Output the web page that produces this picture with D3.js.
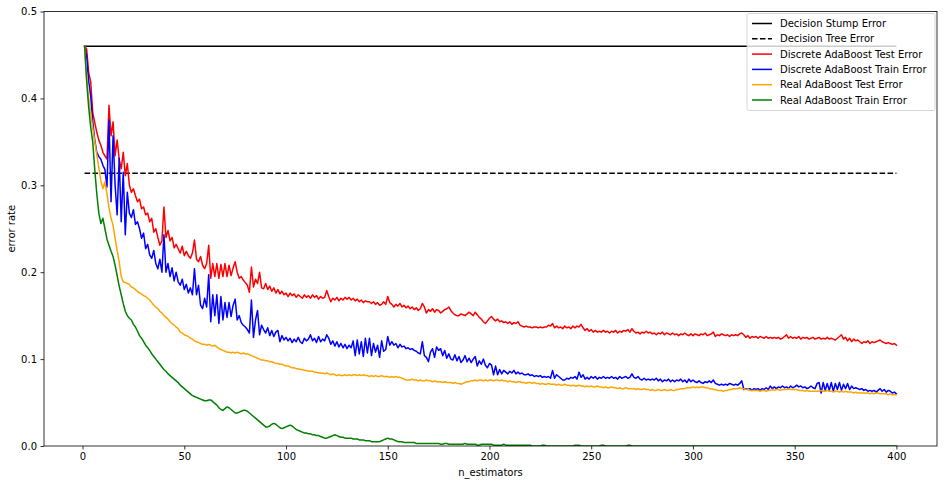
<!DOCTYPE html>
<html><head><meta charset="utf-8">
<script src="https://cdn.jsdelivr.net/npm/d3@7"></script>
<style>body{margin:0;background:#fff;}svg{display:block;font-family:"DejaVu Sans",sans-serif;}</style>
</head><body><svg id="c" width="947" height="485"></svg>
<script>
const xTicks = [0, 50, 100, 150, 200, 250, 300, 350, 400];
const yTicks = [0.0, 0.1, 0.2, 0.3, 0.4, 0.5];
const seriesNames = ["Decision Stump Error", "Decision Tree Error", "Discrete AdaBoost Test Error", "Discrete AdaBoost Train Error", "Real AdaBoost Test Error", "Real AdaBoost Train Error"];
const stumpError = 0.46;
const treeError = 0.314;
const nEstimators = 400;

const discreteTest = [
.460,.457,.430,.419,.384,.372,.361,.352,.346,.338,
.334,.330,.392,.357,.373,.334,.352,.330,.319,.338,
.311,.325,.300,.292,.296,.288,.281,.284,.273,.275,
.266,.268,.258,.262,.246,.250,.240,.231,.236,.275,
.240,.248,.236,.240,.228,.232,.227,.222,.230,.219,
.224,.219,.216,.222,.237,.215,.212,.218,.208,.204,
.210,.231,.193,.210,.195,.210,.193,.209,.195,.210,
.195,.208,.196,.205,.212,.200,.193,.195,.191,.188,
.185,.177,.206,.183,.192,.187,.200,.182,.181,.187,
.180,.184,.178,.182,.176,.180,.175,.178,.174,.176,
.172,.176,.173,.175,.171,.174,.172,.170,.174,.171,
.173,.170,.174,.171,.173,.169,.172,.170,.171,.179,
.172,.166,.170,.168,.171,.167,.170,.168,.171,.169,
.171,.168,.170,.167,.169,.166,.168,.165,.167,.166,
.166,.164,.166,.163,.165,.162,.163,.166,.163,.172,
.165,.163,.160,.163,.161,.164,.160,.162,.159,.161,
.158,.160,.157,.159,.156,.158,.164,.160,.153,.157,
.155,.158,.154,.157,.156,.153,.155,.157,.158,.160,
.156,.153,.151,.150,.150,.152,.151,.150,.152,.154,
.152,.150,.154,.151,.148,.146,.143,.141,.144,.147,
.149,.146,.144,.146,.143,.144,.142,.143,.141,.143,
.140,.142,.141,.143,.139,.138,.137,.138,.137,.137,
.136,.137,.137,.136,.137,.136,.137,.137,.139,.138,
.141,.136,.138,.136,.137,.135,.138,.136,.137,.135,
.138,.136,.138,.137,.140,.136,.133,.135,.132,.134,
.131,.133,.131,.132,.131,.133,.131,.132,.130,.132,
.131,.133,.130,.132,.131,.133,.132,.134,.131,.135,
.132,.130,.131,.129,.131,.130,.132,.130,.131,.129,
.130,.128,.130,.129,.131,.128,.130,.129,.128,.130,
.128,.129,.127,.129,.128,.130,.128,.127,.129,.127,
.129,.128,.127,.129,.128,.130,.127,.128,.129,.131,
.126,.128,.127,.129,.128,.127,.128,.126,.128,.127,
.128,.127,.129,.130,.128,.125,.127,.124,.126,.125,
.126,.124,.126,.125,.124,.126,.124,.125,.124,.125,
.124,.125,.123,.124,.126,.128,.124,.126,.124,.125,
.124,.126,.123,.125,.124,.125,.123,.124,.125,.123,
.124,.125,.123,.124,.123,.125,.123,.124,.123,.122,
.124,.126,.128,.123,.125,.121,.124,.120,.123,.121,
.122,.120,.118,.120,.119,.121,.118,.120,.119,.120,
.121,.122,.120,.119,.118,.119,.118,.117,.118,.116];

const discreteTrain = [
.460,.449,.420,.403,.373,.352,.338,.333,.330,.323,
.318,.298,.375,.281,.357,.300,.266,.331,.258,.315,
.243,.292,.268,.263,.272,.255,.258,.250,.239,.245,
.227,.232,.220,.216,.225,.210,.204,.215,.200,.243,
.200,.210,.195,.205,.190,.200,.189,.185,.192,.180,
.186,.176,.182,.174,.204,.174,.185,.162,.158,.170,
.160,.197,.143,.174,.150,.174,.141,.172,.145,.165,
.148,.165,.149,.162,.169,.145,.150,.142,.139,.137,
.134,.130,.168,.125,.145,.156,.128,.139,.134,.130,
.136,.127,.133,.126,.131,.133,.120,.127,.122,.125,
.121,.124,.119,.123,.120,.125,.120,.118,.124,.121,
.123,.128,.121,.124,.119,.126,.120,.123,.121,.128,
.124,.117,.121,.115,.120,.114,.118,.113,.117,.112,
.116,.113,.121,.104,.122,.106,.120,.103,.124,.107,
.124,.104,.118,.108,.116,.102,.121,.109,.111,.126,
.116,.120,.116,.118,.113,.117,.114,.115,.112,.113,
.111,.112,.110,.109,.107,.106,.120,.104,.102,.097,
.108,.112,.102,.114,.110,.112,.104,.110,.101,.106,
.100,.099,.105,.098,.103,.096,.099,.104,.097,.101,
.096,.100,.103,.092,.098,.094,.100,.093,.090,.095,
.093,.082,.092,.082,.088,.083,.087,.085,.083,.086,
.084,.087,.083,.085,.083,.084,.082,.082,.083,.081,
.082,.080,.081,.080,.081,.079,.080,.079,.080,.078,
.087,.078,.082,.080,.078,.076,.076,.078,.077,.079,
.078,.080,.077,.085,.079,.082,.077,.079,.077,.080,
.078,.080,.077,.079,.078,.080,.078,.079,.078,.080,
.078,.079,.077,.080,.078,.079,.080,.078,.079,.083,
.079,.078,.080,.077,.076,.078,.076,.077,.076,.077,
.076,.078,.075,.077,.074,.076,.075,.077,.074,.076,
.074,.076,.075,.077,.074,.076,.073,.077,.074,.076,
.074,.073,.075,.073,.072,.074,.073,.075,.073,.076,
.072,.071,.070,.071,.070,.071,.070,.072,.071,.070,
.071,.070,.072,.075,.065,.066,.065,.066,.064,.066,
.065,.066,.064,.066,.065,.067,.065,.069,.066,.068,
.066,.068,.067,.069,.067,.068,.066,.069,.067,.068,
.070,.068,.069,.067,.068,.066,.067,.069,.067,.066,
.072,.073,.061,.073,.064,.072,.064,.073,.063,.072,
.065,.073,.064,.071,.066,.072,.065,.069,.066,.067,
.066,.065,.066,.064,.065,.063,.064,.063,.064,.062,
.064,.066,.063,.065,.062,.064,.063,.061,.062,.060];

const realTest = [
.460,.425,.400,.383,.366,.350,.335,.320,.305,.296,
.304,.290,.274,.262,.254,.239,.225,.212,.195,.189,
.188,.187,.186,.183,.182,.180,.178,.176,.175,.173,
.172,.170,.168,.165,.162,.160,.158,.155,.153,.150,
.148,.146,.143,.141,.139,.137,.135,.131,.130,.128,
.127,.126,.124,.123,.121,.120,.119,.118,.117,.117,
.116,.117,.116,.115,.116,.114,.112,.111,.110,.109,
.108,.108,.107,.108,.107,.108,.107,.106,.107,.106,
.106,.105,.104,.103,.102,.101,.100,.099,.099,.098,
.098,.097,.097,.096,.095,.095,.094,.094,.093,.092,
.092,.091,.090,.090,.089,.089,.088,.088,.087,.087,
.086,.086,.086,.085,.085,.084,.084,.084,.083,.084,
.083,.082,.083,.082,.081,.082,.081,.081,.082,.081,
.082,.081,.082,.082,.081,.082,.081,.082,.081,.081,
.080,.081,.080,.081,.080,.080,.081,.080,.080,.080,
.079,.080,.079,.080,.079,.079,.078,.077,.076,.076,
.076,.077,.076,.076,.075,.076,.075,.075,.076,.075,
.075,.074,.075,.074,.074,.074,.073,.074,.073,.073,
.073,.072,.073,.072,.072,.071,.072,.073,.074,.074,
.075,.075,.076,.075,.076,.076,.075,.076,.075,.076,
.076,.075,.076,.076,.075,.076,.075,.075,.074,.075,
.074,.074,.073,.074,.074,.073,.073,.072,.073,.073,
.072,.073,.072,.072,.071,.072,.071,.071,.072,.071,
.071,.071,.070,.071,.070,.070,.071,.070,.070,.069,
.070,.069,.069,.070,.069,.069,.068,.069,.068,.069,
.068,.068,.069,.068,.068,.067,.068,.067,.067,.068,
.067,.067,.066,.067,.066,.066,.067,.066,.066,.066,
.066,.065,.066,.065,.065,.066,.065,.065,.064,.065,
.064,.064,.065,.064,.064,.065,.064,.064,.065,.064,
.064,.065,.065,.066,.066,.066,.067,.067,.067,.068,
.067,.068,.067,.068,.068,.067,.067,.066,.066,.065,
.065,.064,.064,.064,.063,.064,.064,.065,.065,.066,
.066,.066,.067,.066,.066,.065,.065,.064,.064,.064,
.064,.064,.063,.064,.064,.063,.064,.064,.065,.064,
.065,.065,.064,.065,.065,.065,.066,.065,.065,.065,
.065,.064,.064,.064,.063,.064,.063,.063,.063,.063,
.063,.063,.064,.063,.063,.064,.063,.063,.062,.063,
.063,.062,.063,.062,.063,.062,.062,.062,.061,.062,
.061,.061,.061,.061,.061,.061,.060,.061,.060,.061,
.061,.060,.060,.060,.060,.059,.060,.059,.059,.059];

const realTrain = [
.460,.420,.390,.367,.350,.318,.290,.268,.256,.262,
.250,.238,.231,.224,.218,.208,.196,.184,.174,.164,
.155,.150,.147,.145,.140,.137,.132,.127,.124,.120,
.116,.113,.110,.106,.103,.100,.097,.094,.091,.088,
.086,.083,.081,.079,.077,.075,.073,.070,.068,.066,
.064,.062,.060,.058,.057,.056,.055,.054,.053,.052,
.052,.053,.053,.051,.049,.047,.044,.042,.041,.043,
.045,.044,.042,.040,.038,.038,.039,.040,.041,.041,
.040,.038,.036,.034,.032,.030,.028,.026,.024,.022,
.022,.023,.025,.026,.025,.023,.021,.020,.021,.022,
.023,.024,.023,.021,.019,.018,.017,.016,.015,.015,
.014,.014,.013,.013,.012,.012,.011,.010,.009,.009,
.010,.011,.012,.013,.012,.011,.010,.010,.009,.009,
.009,.009,.008,.008,.008,.007,.007,.007,.006,.006,
.006,.005,.005,.005,.005,.005,.006,.007,.008,.009,
.008,.008,.007,.006,.005,.005,.005,.004,.004,.004,
.004,.004,.004,.003,.003,.003,.003,.003,.003,.003,
.003,.003,.003,.003,.003,.002,.002,.003,.003,.002,
.002,.002,.002,.002,.002,.002,.002,.003,.002,.002,
.002,.002,.002,.001,.001,.002,.002,.002,.002,.002,
.002,.001,.001,.001,.001,.001,.002,.001,.001,.001,
.001,.001,.001,.001,.001,.001,.001,.001,.001,.001,
0,0,0,0,0,.001,.001,0,0,0,
0,0,0,0,0,0,0,0,0,0,
0,.001,.001,.001,0,0,0,0,0,0,
0,0,0,0,.001,.001,0,0,0,0,
0,0,0,0,0,0,0,.001,.001,0,
0,0,0,0,0,0,0,0,0,0,
0,0,0,0,0,0,0,0,0,0,
0,0,0,0,0,0,0,0,0,0,
0,0,0,0,0,0,0,0,0,0,
0,0,0,0,0,0,0,0,0,0,
0,0,0,0,0,0,0,0,0,0,
0,0,0,0,0,0,0,0,0,0,
0,0,0,0,0,0,0,0,0,0,
0,0,0,0,0,0,0,0,0,0,
0,0,0,0,0,0,0,0,0,0,
0,0,0,0,0,0,0,0,0,0,
0,0,0,0,0,0,0,0,0,0,
0,0,0,0,0,0,0,0,0,0];

const svg = d3.select("#c");
const L = 44, R = 937, T = 11.5, B = 446;
const x = d3.scaleLinear().domain([-18.95, 419.95]).range([L, R]);
const y = d3.scaleLinear().domain([0, 0.5]).range([B, T]);

const clip = svg.append("defs").append("clipPath").attr("id","clip")
  .append("rect").attr("x",L).attr("y",T).attr("width",R-L).attr("height",B-T);
const plot = svg.append("g").attr("clip-path","url(#clip)");

const ns = d3.range(1, nEstimators + 1);
const line = d3.line().x((d,i)=>x(i+1)).y(d=>y(d));

plot.append("line").attr("x1",x(1)).attr("x2",x(nEstimators)).attr("y1",y(stumpError)).attr("y2",y(stumpError))
  .attr("stroke","#000").attr("stroke-width",1.5);
plot.append("line").attr("x1",x(1)).attr("x2",x(nEstimators)).attr("y1",y(treeError)).attr("y2",y(treeError))
  .attr("stroke","#000").attr("stroke-width",1.5).attr("stroke-dasharray","5.55,2.4");

const series = [
  {data: discreteTest, color: "red"},
  {data: discreteTrain, color: "blue"},
  {data: realTest, color: "orange"},
  {data: realTrain, color: "green"}
];
series.forEach(s => {
  plot.append("path").attr("d", line(s.data)).attr("fill","none")
    .attr("stroke", s.color).attr("stroke-width",1.5).attr("stroke-linejoin","round").attr("stroke-linecap","square");
});

// axes
const xAxis = d3.axisBottom(x).tickValues(xTicks).tickSize(3.5).tickPadding(3.5).tickFormat(d3.format("d"));
const yAxis = d3.axisLeft(y).tickValues(yTicks).tickSize(3.5).tickPadding(3.5).tickFormat(d3.format(".1f"));
const gx = svg.append("g").attr("transform",`translate(0,${B})`).call(xAxis);
const gy = svg.append("g").attr("transform",`translate(${L},0)`).call(yAxis);
[gx, gy].forEach(g => {
  g.select(".domain").remove();
  g.selectAll(".tick line").attr("stroke","#000").attr("stroke-width",0.8);
  g.selectAll("text").attr("font-size",10).attr("fill","#000").attr("font-family","DejaVu Sans");
});
svg.append("rect").attr("x",L).attr("y",T).attr("width",R-L).attr("height",B-T)
  .attr("fill","none").attr("stroke","#000").attr("stroke-width",0.8);

svg.append("text").attr("x",(L+R)/2).attr("y",476).attr("text-anchor","middle")
  .attr("font-size",10).text("n_estimators");
svg.append("text").attr("transform",`translate(15,${(T+B)/2}) rotate(-90)`).attr("text-anchor","middle")
  .attr("font-size",10).text("error rate");

// legend
const lgX = 747, lgY = 13.5, lgW = 188, lgH = 97;
svg.append("rect").attr("x",lgX).attr("y",lgY).attr("width",lgW).attr("height",lgH).attr("rx",2)
  .attr("fill","rgba(255,255,255,0.8)").attr("stroke","#ccc").attr("stroke-width",0.8);
const legColors = ["#000","#000","red","blue","orange","green"];
seriesNames.forEach((name,i) => {
  const cy = 23.5 + i*15.3;
  svg.append("line").attr("x1",752).attr("x2",772).attr("y1",cy).attr("y2",cy)
    .attr("stroke",legColors[i]).attr("stroke-width",1.5)
    .attr("stroke-dasharray", i===1 ? "5.55,2.4" : null);
  svg.append("text").attr("x",780).attr("y",cy+3.6).attr("font-size",10).text(name);
});
</script></body></html>
